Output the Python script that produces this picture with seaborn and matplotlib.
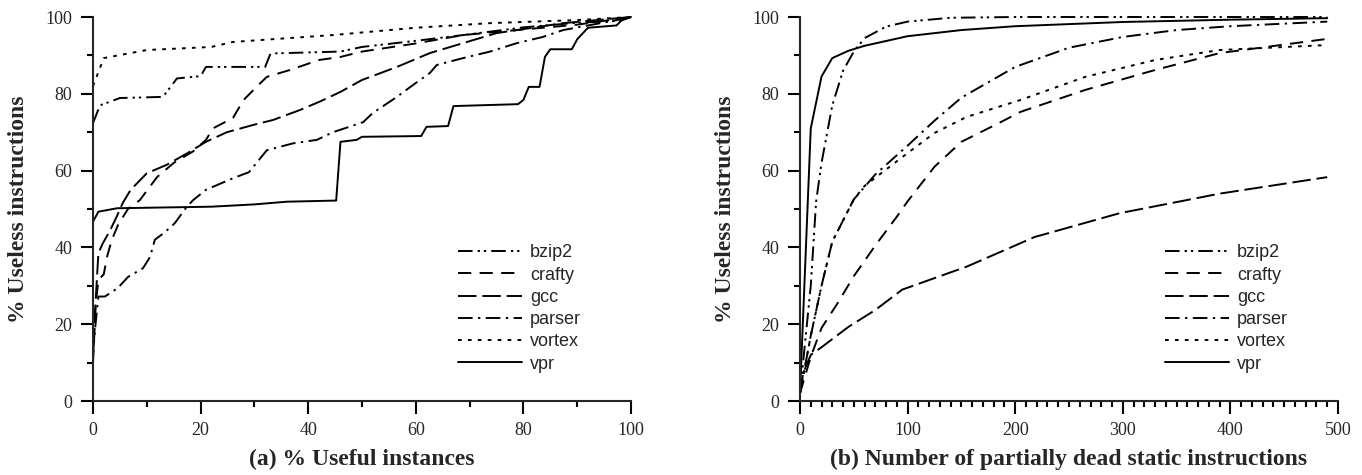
import matplotlib
matplotlib.use("Agg")
import matplotlib.pyplot as plt
import seaborn as sns
import pandas as pd
from matplotlib.ticker import MultipleLocator
from matplotlib.font_manager import FontProperties

# ---------------- data: panel (a) ----------------
a_bzip2_x = [0, 1.3, 5, 13, 15.6, 20, 21, 32, 33, 46, 50, 60, 70, 80, 90, 98, 100]
a_bzip2_y = [72.4, 77, 78.9, 79.2, 84, 84.6, 87, 87, 90.5, 91, 92.2, 93.8, 95.5, 97.3, 98.5, 99.0, 100]

a_crafty_x = [0, 0.5, 1, 2, 2.6, 3.5, 4.7, 6.5, 8.7, 11.9, 15, 18.6, 21, 22.3, 26, 28, 30.4, 32.3, 36.6, 42, 46, 50, 59.5, 68.8, 78.8, 90, 100]
a_crafty_y = [10, 25, 31.5, 33, 37.5, 42, 46, 50, 52.3, 58.3, 62, 65, 68, 71, 73.7, 78.4, 81.8, 84.4, 86.2, 88.8, 89.6, 91, 93, 95.3, 96.6, 98, 100]

a_gcc_x = [0, 1, 1.8, 3.2, 4.4, 5.5, 7, 10, 13.7, 17.5, 21, 24.9, 29.8, 33.5, 38.5, 42.2, 46, 50, 56.5, 62.6, 68.8, 75, 87.4, 100]
a_gcc_y = [14, 38.5, 41, 44.5, 48, 51.5, 55, 59.3, 61.5, 64.5, 67.5, 70, 71.9, 73.2, 75.8, 78, 80.5, 83.6, 87, 90.6, 93.2, 95.8, 98.4, 100]

a_parser_x = [0, 0.4, 1, 2.2, 4.6, 6.5, 9.3, 10.6, 11.5, 13.4, 15.2, 17.4, 18.6, 21, 26, 29, 32.3, 37.2, 41.6, 44.6, 50.2, 52, 56.5, 59, 62.6, 63.9, 68.8, 73.8, 78.8, 83.6, 87.4, 97.4, 100]
a_parser_y = [12, 19, 27.2, 27.2, 29.4, 32.3, 34.6, 37.5, 42, 44, 46.3, 50.5, 52.3, 55, 58, 59.6, 65.3, 67.1, 68, 70, 72.6, 75, 79.2, 81.8, 85.4, 87.5, 89.3, 91, 93.2, 94.8, 96.6, 99.2, 100]

a_vortex_x = [0, 2, 10, 22, 26, 44.6, 60, 73.8, 90, 100]
a_vortex_y = [82, 89.3, 91.4, 92.2, 93.5, 95.3, 97.2, 98.4, 99.2, 100]

a_vpr_x = [0, 1, 4.5, 22, 30, 36, 45.2, 46, 49, 50, 61, 62, 66, 67, 79, 80, 81, 83, 84, 85, 89, 90, 92, 97.3, 98.3, 100]
a_vpr_y = [46.7, 49.3, 50.2, 50.6, 51.2, 51.9, 52.2, 67.5, 68, 68.8, 69, 71.4, 71.6, 76.8, 77.3, 78.4, 81.8, 81.8, 89.6, 91.6, 91.6, 94.2, 97.2, 97.8, 99.2, 100]

# ---------------- data: panel (b) ----------------
b_bzip2_x = [0, 10, 15, 20, 30, 40, 50, 60, 80, 100, 140, 200, 300, 400, 490]
b_bzip2_y = [2, 30, 52, 62, 77, 86, 91, 94.5, 97.5, 98.8, 99.8, 100, 100, 100, 100]

b_crafty_x = [0, 10, 20, 35, 50, 70, 90, 100, 125, 150, 185, 205, 265, 330, 390, 490]
b_crafty_y = [2, 11.5, 19, 25.5, 32.5, 40.5, 48, 52, 61, 67.5, 72.4, 75.3, 81, 86.2, 90.6, 94.3]

b_gcc_x = [0, 3, 10, 20, 45, 70, 95, 155, 218, 297, 390, 490]
b_gcc_y = [2, 7.3, 12, 14, 19.3, 23.7, 29, 35, 42.7, 48.9, 54, 58.3]

b_parser_x = [0, 10, 20, 30, 50, 70, 100, 125, 150, 200, 250, 300, 350, 400, 490]
b_parser_y = [2, 17, 30, 41.5, 52.5, 59, 66.5, 73, 79, 87, 92, 94.8, 96.6, 97.6, 98.8]

b_vortex_x = [0, 10, 20, 30, 50, 60, 95, 125, 155, 205, 265, 330, 390, 490]
b_vortex_y = [2, 17, 30, 41.5, 52.5, 56, 63.5, 69.8, 74, 78.4, 84.4, 88.8, 91.4, 92.7]

b_vpr_x = [0, 10, 20, 30, 45, 60, 100, 150, 200, 300, 400, 490]
b_vpr_y = [2, 71, 84.5, 89.3, 91.2, 92.5, 95, 96.6, 97.6, 98.7, 99.3, 99.7]

benches = ["bzip2", "crafty", "gcc", "parser", "vortex", "vpr"]

def long_df(series):
    rows = []
    for name, xs, ys in series:
        for x, y in zip(xs, ys):
            rows.append((name, x, y))
    return pd.DataFrame(rows, columns=["bench", "x", "y"])

df_a = long_df([
    ("bzip2", a_bzip2_x, a_bzip2_y), ("crafty", a_crafty_x, a_crafty_y),
    ("gcc", a_gcc_x, a_gcc_y), ("parser", a_parser_x, a_parser_y),
    ("vortex", a_vortex_x, a_vortex_y), ("vpr", a_vpr_x, a_vpr_y)])
df_b = long_df([
    ("bzip2", b_bzip2_x, b_bzip2_y), ("crafty", b_crafty_x, b_crafty_y),
    ("gcc", b_gcc_x, b_gcc_y), ("parser", b_parser_x, b_parser_y),
    ("vortex", b_vortex_x, b_vortex_y), ("vpr", b_vpr_x, b_vpr_y)])

dash_map = {
    "bzip2": (7.5, 2.6, 1.2, 2.0, 1.2, 2.6),
    "crafty": (6.8, 4.3),
    "gcc": (9.5, 3.0),
    "parser": (7.5, 2.8, 1.2, 2.8),
    "vortex": (1.9, 3.2),
    "vpr": "",
}

sns.set_style("ticks")
plt.rcParams["font.family"] = ["Liberation Serif", "DejaVu Serif"]
plt.rcParams["axes.linewidth"] = 1.5

fig = plt.figure(figsize=(13.62, 4.75), dpi=100)
ax1 = fig.add_axes([93 / 1362, 74 / 475, 538 / 1362, 384 / 475])
ax2 = fig.add_axes([800 / 1362, 74 / 475, 538 / 1362, 384 / 475])

legend_font = FontProperties(family="Liberation Sans", size=13)

for ax, df, xmax, xmaj, xlabel in [
    (ax1, df_a, 100, 20, "(a) % Useful instances"),
    (ax2, df_b, 500, 100, "(b) Number of partially dead static instructions"),
]:
    sns.lineplot(data=df, x="x", y="y", style="bench", style_order=benches,
                 dashes=dash_map, color="black", linewidth=1.4,
                 estimator=None, sort=False, ax=ax, clip_on=False)
    ax.set_xlim(0, xmax)
    ax.set_ylim(0, 100)
    ax.xaxis.set_major_locator(MultipleLocator(xmaj))
    ax.xaxis.set_minor_locator(MultipleLocator(10))
    ax.yaxis.set_major_locator(MultipleLocator(20))
    ax.yaxis.set_minor_locator(MultipleLocator(10))
    ax.tick_params(which="major", length=9, width=1.5, direction="out",
                   labelsize=13, pad=6, color="black")
    ax.tick_params(which="minor", length=4, width=1.5, direction="out", color="black")
    sns.despine(ax=ax)
    ax.set_xlabel(xlabel, fontsize=17, fontweight="bold", labelpad=7)
    ax.set_ylabel("% Useless instructions", fontsize=17, fontweight="bold", labelpad=12)
    sns.move_legend(ax, loc="center left", bbox_to_anchor=(0.678, 0.241),
                    frameon=False, title=None, prop=legend_font,
                    handlelength=3.55, handletextpad=0.45, labelspacing=0.29,
                    borderaxespad=0, borderpad=0)
    leg = ax.get_legend()
    for h in leg.get_lines():
        h.set_linewidth(1.4)

fig.savefig("out.png", dpi=100)
